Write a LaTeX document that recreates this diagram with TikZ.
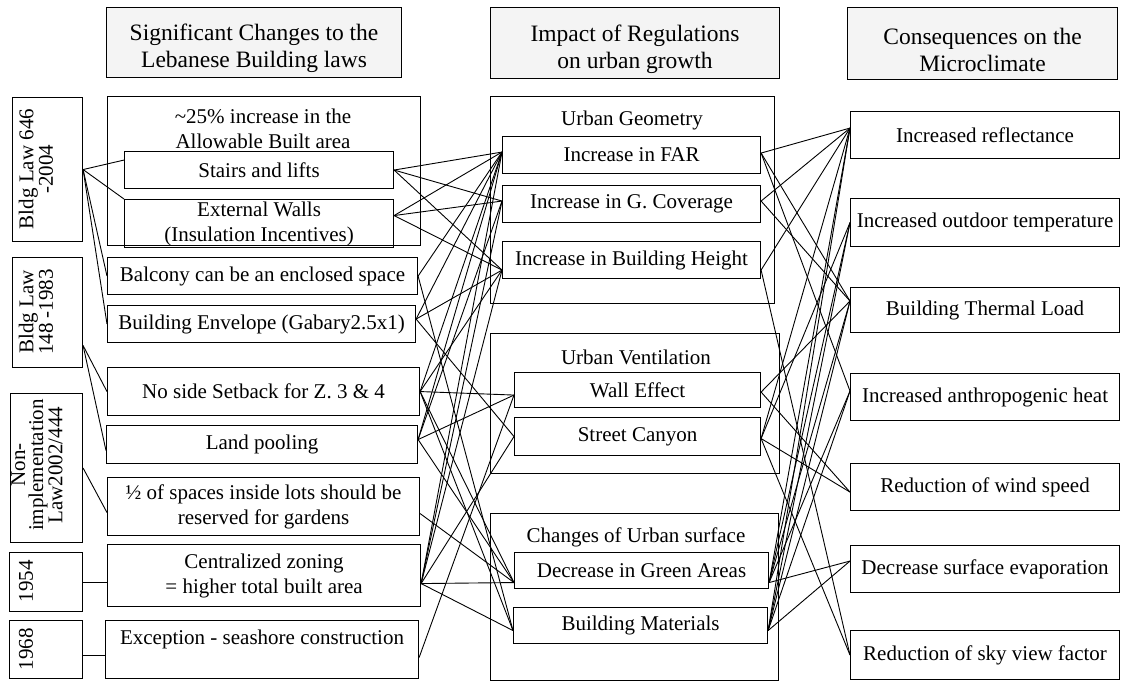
\documentclass[tikz,border=0pt]{standalone}
\usepackage{fontspec}
\setmainfont{Liberation Serif}

\begin{document}
\begin{tikzpicture}[
        x=1pt, y=-1pt, % 1 pt = 1 px, y grows downwards
        font=\fontsize{21}{25}\selectfont,
        wh/.style 2 args={minimum width=#1pt, minimum height=#2pt}, % box size
        box/.style={draw, line width=1.1pt, anchor=north west, align=center, inner sep=0pt},
        head/.style={box, fill=gray!9},
        headtext/.style={align=center, inner sep=0pt, font=\fontsize{23.5}{27}\selectfont},
        group/.style={draw, line width=1.1pt, anchor=north west, inner sep=0pt},
        law/.style={rotate=90, align=center, inner sep=0pt, font=\fontsize{21}{18}\selectfont},
        link/.style={draw, line width=0.9pt},
    ]
    \useasboundingbox (0,0) rectangle (1121,681);

    % headers
    \node[head, wh={295}{70}] (H1) at (106,7) {};
    \node[head, wh={289}{71}] (H2) at (490,7) {};
    \node[head, wh={270}{72}] (H3) at (847,7) {};
    \node[headtext] (H1t) at ([yshift=-6pt]H1.center) {Significant Changes to the\\Lebanese Building laws};
    \node[headtext] (H2t) at ([yshift=-6pt]H2.center) {Impact of Regulations\\on urban growth};
    \node[headtext] (H3t) at ([yshift=-6pt]H3.center) {Consequences on the\\Microclimate};

    % laws
    \node[box, wh={70}{144}] (L1) at (12,97) {};
    \node[box, wh={70}{110}] (L2) at (12,257) {};
    \node[box, wh={72}{149}] (L3) at (10,393) {};
    \node[box, wh={73}{59}] (L4) at (9,552) {};
    \node[box, wh={73}{58}] (L5) at (9,620) {};
    \node[law] (L1t) at (36,169) {Bldg Law 646\\-2004};
    \node[law] (L2t) at (36,312) {Bldg Law\\148 -1983};
    \node[law] (L3t) at (37,465) {Non-\\implementation\\Law2002/444};
    \node[law] (L4t) at (26,581) {1954};
    \node[law] (L5t) at (26,649) {1968};

    % changes to the laws
    \node[group, wh={313}{149}] (G0) at (107,96) {};
    \node[align=center] (G0t) at (263,129) {\textasciitilde25\% increase in the\\Allowable Built area};
    \node[box, wh={269}{37}] (C1) at (124,151) {Stairs and lifts};
    \node[box, wh={269}{48}] (C2) at (124,199) {External Walls\\(Insulation Incentives)};
    \node[box, wh={310}{37}] (C3) at (107,257) {Balcony can be an enclosed space};
    \node[box, wh={308}{37}] (C4) at (107,305) {Building Envelope (Gabary2.5x1)};
    \node[box, wh={312}{48}] (C5) at (107,367) {No side Setback for Z. 3 \& 4};
    \node[box, wh={311}{38}] (C6) at (106,425) {Land pooling};
    \node[box, wh={312}{58}] (C7) at (107,477) {½ of spaces inside lots should be\\reserved for gardens};
    \node[box, wh={313}{62}] (C8) at (107,544) {Centralized zoning\\= higher total built area};
    \node[box, wh={313}{58}] (C9) at (105,620) {Exception - seashore construction\\\mbox{}};

    % impact on urban growth
    \node[group, wh={284}{207}] (G1) at (490,96) {};
    \node (G1t) at (632,120) {Urban Geometry};
    \node[box, wh={258}{37}] (M1) at (502,136) {Increase in FAR};
    \node[box, wh={258}{37}] (M2) at (502,185) {Increase in G. Coverage};
    \node[box, wh={258}{37}] (M3) at (502,241) {Increase in Building Height};
    \node[group, wh={289}{140}] (G2) at (490,333) {};
    \node (G2t) at (636,357) {Urban Ventilation};
    \node[box, wh={246}{35}] (M4) at (514,372) {Wall Effect};
    \node[box, wh={246}{38}] (M5) at (514,417) {Street Canyon};
    \node[group, wh={288}{167}] (G3) at (490,513) {};
    \node (G3t) at (636,537) {Changes of Urban surface};
    \node[box, wh={254}{36}] (M6) at (514,552) {Decrease in Green Areas};
    \node[box, wh={254}{36}] (M7) at (513,607) {Building Materials};

    % microclimate
    \node[box, wh={269}{47}] (R1) at (850,111) {Increased reflectance};
    \node[box, wh={269}{48}] (R2) at (850,198) {Increased outdoor temperature};
    \node[box, wh={269}{45}] (R3) at (850,287) {Building Thermal Load};
    \node[box, wh={269}{47}] (R4) at (850,373) {Increased anthropogenic heat};
    \node[box, wh={269}{47}] (R5) at (850,463) {Reduction of wind speed};
    \node[box, wh={269}{47}] (R6) at (850,545) {Decrease surface evaporation};
    \node[box, wh={269}{49}] (R7) at (850,630) {Reduction of sky view factor};

    % ports
    \coordinate (l2o) at ([yshift=-33pt]L2.east);
    \coordinate (l5o) at ([yshift=-6pt]L5.east);
    \coordinate (c1i) at ([yshift=10pt]C1.west);
    \coordinate (c6i) at ([yshift=-6pt]C6.west);
    \coordinate (c7i) at ([yshift=-6pt]C7.west);
    \coordinate (c2o) at ([yshift=8pt]C2.east);
    \coordinate (c4o) at ([yshift=5pt]C4.east);
    \coordinate (c6o) at ([yshift=5pt]C6.east);
    \coordinate (c7o) at ([yshift=-7pt]C7.east);
    \coordinate (c8o) at ([yshift=-8pt]C8.east);
    \coordinate (c9o) at ([yshift=-8pt]C9.east);
    \coordinate (m1i) at ([yshift=3pt]M1.west);
    \coordinate (m2i) at ([yshift=3pt]M2.west);
    \coordinate (m3i) at ([yshift=-10pt]M3.west);
    \coordinate (m4i) at ([yshift=-5pt]M4.west);
    \coordinate (m5i) at (M5.west);
    \coordinate (m6i) at ([yshift=-12pt]M6.west);
    \coordinate (m7i) at ([yshift=-5pt]M7.west);
    \coordinate (m1o) at ([yshift=2pt]M1.east);
    \coordinate (m2o) at ([yshift=3pt]M2.east);
    \coordinate (m3o) at ([yshift=-10pt]M3.east);
    \coordinate (m4o) at ([yshift=-2pt]M4.east);
    \coordinate (m5o) at ([yshift=-2pt]M5.east);
    \coordinate (m6o) at ([yshift=-12pt]M6.east);
    \coordinate (m7o) at ([yshift=-5pt]M7.east);
    \coordinate (r1i) at ([yshift=7pt]R1.west);
    \coordinate (r2i) at (R2.west);
    \coordinate (r3i) at ([yshift=9pt]R3.west);
    \coordinate (r4i) at ([yshift=6pt]R4.west);
    \coordinate (r5i) at ([yshift=-5pt]R5.west);
    \coordinate (r6i) at ([yshift=8pt]R6.west);
    \coordinate (r7i) at (R7.west);

    % laws -> changes
    \draw[link] (L1.east) edge (c1i) edge (C2.north west) edge (C3.west) edge (C4.west);
    \draw[link] (l2o) edge (C5.west) edge (c6i);
    \draw[link] (L3.east) -- (c7i);
    \draw[link] (L4.east) -- (L4.east -| C8.west);
    \draw[link] (l5o) -- (l5o -| C9.west);

    % changes -> impact
    \draw[link] (C1.east) edge (m1i) edge (m2i) edge (m3i);
    \draw[link] (c2o) edge (m1i) edge (m2i) edge (m3i);
    \draw[link] (C3.east) edge (m1i) edge (m7i);
    \draw[link] (c4o) edge (m1i) edge (m3i) edge (m5i);
    \draw[link] (C5.east) edge (m1i) edge (m3i) edge (m4i) edge (m6i) edge (m7i);
    \draw[link] (c6o) edge (m1i) edge (m2i) edge (m4i) edge (m6i);
    \draw[link] (c7o) edge (m6i);
    \draw[link] (c8o) edge (m1i) edge (m2i) edge (m3i) edge (m5i) edge (m6i) edge (m7i);
    \draw[link] (c9o) edge (m4i);

    % impact -> consequences
    \draw[link] (m1o) edge (r1i) edge (r3i) edge (r4i);
    \draw[link] (m2o) edge (r1i) edge (r3i);
    \draw[link] (m3o) edge (r1i) edge (r7i);
    \draw[link] (m4o) edge (r3i) edge (r5i);
    \draw[link] (m5o) edge (r1i) edge (r2i) edge (r5i) edge (r7i);
    \draw[link] (m6o) edge (r1i) edge (r2i) edge (r3i) edge (r4i) edge (r6i);
    \draw[link] (m7o) edge (r1i) edge (r2i) edge (r3i) edge (r4i) edge (r6i);
\end{tikzpicture}
\end{document}
